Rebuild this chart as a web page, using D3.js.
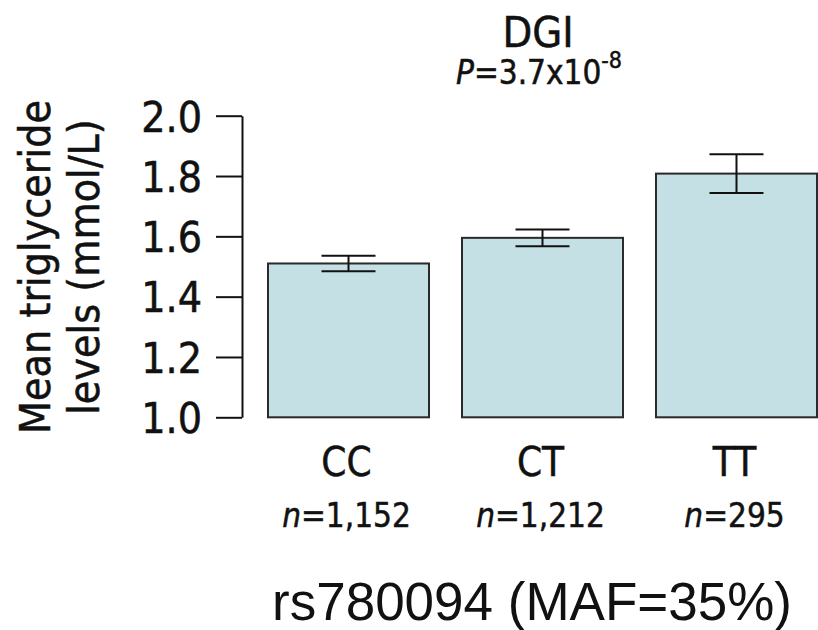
<!DOCTYPE html>
<html>
<head>
<meta charset="utf-8">
<script src="https://cdn.jsdelivr.net/npm/d3@7"></script>
<style>
  html, body { margin: 0; padding: 0; background: #fff; }
  svg text { font-family: "DejaVu Sans Condensed", "DejaVu Sans", sans-serif; font-stretch: condensed; fill: #111; stroke: #111; stroke-width: 0.5px; }
</style>
</head>
<body>
<svg id="chart" width="818" height="630"></svg>
<script>
// Genotype groups for rs780094 in the DGI cohort
const genotypes = ["CC", "CT", "TT"];
const sampleSizes = ["1,152", "1,212", "295"];
const meanTG = [1.51, 1.595, 1.808];
const errTG = [0.026, 0.028, 0.064];
const yTicks = [1.0, 1.2, 1.4, 1.6, 1.8, 2.0];

const svg = d3.select("#chart");

const y = d3.scaleLinear().domain([1.0, 2.0]).range([417.3, 115.7]);
const x = d3.scaleBand().domain(genotypes).range([268, 817]).paddingInner(0.17).paddingOuter(0);

// Y axis
const yAxis = svg.append("g")
  .attr("transform", "translate(242,0)")
  .call(d3.axisLeft(y).tickValues(yTicks).tickFormat(d3.format(".1f")).tickSize(26).tickSizeOuter(0).tickPadding(14));
yAxis.select(".domain").attr("stroke", "#111").attr("stroke-width", 2);
yAxis.selectAll(".tick line").attr("stroke", "#111").attr("stroke-width", 2);
yAxis.selectAll(".tick text")
  .attr("font-size", 42.5)
  .attr("font-family", null)
  .attr("dy", "0.36em")
  .attr("fill", "#111");

// Y axis title (two lines)
const yTitle = svg.append("text")
  .attr("transform", "translate(0,267) rotate(-90)")
  .attr("text-anchor", "middle")
  .attr("font-size", 42.5);
yTitle.append("tspan").attr("x", 0).attr("y", 50).text("Mean triglyceride");
yTitle.append("tspan").attr("x", 0).attr("y", 99).text("levels (mmol/L)");

// Bars
svg.append("g").selectAll("rect")
  .data(genotypes)
  .join("rect")
  .attr("x", d => x(d))
  .attr("width", x.bandwidth())
  .attr("y", (d, i) => y(meanTG[i]))
  .attr("height", (d, i) => y(1.0) - y(meanTG[i]))
  .attr("fill", "#c4e0e4")
  .attr("stroke", "#2a2a2a")
  .attr("stroke-width", 2);

// Error bars
const capHalf = 27;
const eb = svg.append("g").attr("stroke", "#111").attr("stroke-width", 2);
genotypes.forEach((g, i) => {
  const cx = x(g) + x.bandwidth() / 2;
  const hi = y(meanTG[i] + errTG[i]);
  const lo = y(meanTG[i] - errTG[i]);
  eb.append("line").attr("x1", cx).attr("x2", cx).attr("y1", hi).attr("y2", lo);
  eb.append("line").attr("x1", cx - capHalf).attr("x2", cx + capHalf).attr("y1", hi).attr("y2", hi);
  eb.append("line").attr("x1", cx - capHalf).attr("x2", cx + capHalf).attr("y1", lo).attr("y2", lo);
});

// Genotype labels and sample sizes
const labels = svg.append("g").attr("text-anchor", "middle");
genotypes.forEach((g, i) => {
  const cx = x(g) + x.bandwidth() / 2 - 2;
  labels.append("text").attr("x", cx).attr("y", 476).attr("font-size", 40).text(g);
  const n = labels.append("text").attr("x", cx).attr("y", 526.5).attr("font-size", 33);
  n.append("tspan").attr("font-style", "italic").text("n");
  n.append("tspan").text("=" + sampleSizes[i]);
});

// Title and P value
svg.append("text").attr("x", 538).attr("y", 46.5).attr("text-anchor", "middle")
  .attr("font-size", 43).text("DGI");
const p = svg.append("text").attr("x", 539).attr("y", 84).attr("text-anchor", "middle").attr("font-size", 33);
p.append("tspan").attr("font-style", "italic").text("P");
p.append("tspan").text("=3.7x10");
p.append("tspan").attr("font-size", 23).attr("dy", -16).text("-8");

// SNP caption
svg.append("text").attr("x", 532).attr("y", 620).attr("text-anchor", "middle")
  .style("font-family", "'Liberation Sans', Arial, sans-serif").style("font-stretch", "normal")
  .style("stroke", "none")
  .attr("font-size", 53).attr("fill", "#000").text("rs780094 (MAF=35%)");
</script>
</body>
</html>
